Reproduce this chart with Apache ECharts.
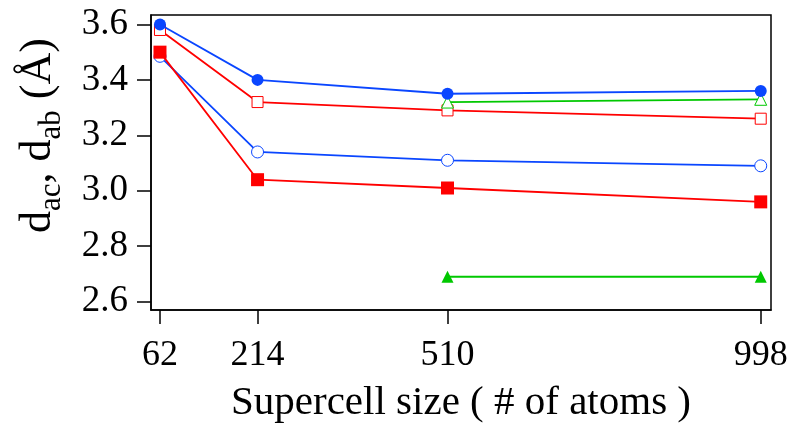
<!DOCTYPE html>
<html><head><meta charset="utf-8">
<script src="https://cdn.jsdelivr.net/npm/echarts@6/dist/echarts.min.js"></script>
<style>html,body{margin:0;padding:0;background:#fff}#c{width:793px;height:431px}</style>
</head><body><div id="c"></div>
<script>
const sizes = [62, 214, 510, 998];
const xTicks = [62, 214, 510, 998];
const yTicks = [2.6, 2.8, 3.0, 3.2, 3.4, 3.6];
const blueFilled = [3.60, 3.40, 3.35, 3.36];
const redOpen = [3.58, 3.32, 3.29, 3.26];
const blueOpen = [3.485, 3.14, 3.11, 3.09];
const redFilled = [3.50, 3.04, 3.01, 2.96];
const greenOpenX = [510, 998];
const greenOpen = [3.32, 3.33];
const greenFilledX = [510, 998];
const greenFilled = [2.69, 2.69];

const BLUE = '#0a46ff', RED = '#ff0000', GREEN = '#00c800';
const FONT = 'Liberation Serif';
const pairs = (xs, ys) => xs.map((x, i) => [x, ys[i]]);

function mk(name, xs, ys, color, symbol, size, filled) {
  return {
    name, type: 'line', data: pairs(xs, ys), symbol, symbolSize: size,
    showAllSymbol: true,
    lineStyle: {color, width: 1.8},
    itemStyle: filled ? {color} : {color: '#fff', borderColor: color, borderWidth: 1},
    emphasis: {disabled: true}, animation: false, z: filled ? 3 : 2
  };
}

const chart = echarts.init(document.getElementById('c'));
chart.setOption({
  animation: false,
  grid: {left: 151, top: 15, right: 22, bottom: 121, show: true, borderColor: '#000', borderWidth: 1.5, backgroundColor: 'transparent'},
  xAxis: {
    type: 'value', min: 48, max: 1014,
    name: 'Supercell size ( # of atoms )', nameLocation: 'middle', nameGap: 73,
    nameTextStyle: {fontFamily: FONT, fontSize: 41, color: '#000'},
    axisLine: {show: true, onZero: false, lineStyle: {color: '#000', width: 1.5}},
    axisTick: {show: true, inside: false, length: 14, customValues: xTicks, lineStyle: {color: '#000', width: 1.5}},
    axisLabel: {customValues: xTicks, margin: 28, fontFamily: FONT, fontSize: 36, color: '#000'},
    splitLine: {show: false}
  },
  yAxis: {
    type: 'value', min: 2.57, max: 3.634,
    name: '{m|d}{s|ac}{m|, d}{s|ab}{m| (Å)}', nameLocation: 'middle', nameGap: 84, nameRotate: 90,
    nameTextStyle: {
      fontFamily: FONT, color: '#000', padding: [0, 0, 0, 54],
      rich: {
        m: {fontFamily: FONT, fontSize: 44, lineHeight: 58, color: '#000'},
        s: {fontFamily: FONT, fontSize: 31, lineHeight: 31, verticalAlign: 'bottom', color: '#000'}
      }
    },
    axisLine: {show: true, onZero: false, lineStyle: {color: '#000', width: 1.5}},
    axisTick: {show: true, inside: false, length: 14, customValues: yTicks, lineStyle: {color: '#000', width: 1.5}},
    axisLabel: {customValues: yTicks, margin: 23, fontFamily: FONT, fontSize: 37, color: '#000', formatter: v => v.toFixed(1)},
    splitLine: {show: false}
  },
  series: [
    mk('blueFilled', sizes, blueFilled, BLUE, 'circle', 12, true),
    mk('redOpen', sizes, redOpen, RED, 'rect', 11, false),
    mk('blueOpen', sizes, blueOpen, BLUE, 'circle', 12, false),
    mk('redFilled', sizes, redFilled, RED, 'rect', 13, true),
    mk('greenOpen', greenOpenX, greenOpen, GREEN, 'triangle', 12, false),
    mk('greenFilled', greenFilledX, greenFilled, GREEN, 'triangle', 12, true)
  ]
});
</script></body></html>
